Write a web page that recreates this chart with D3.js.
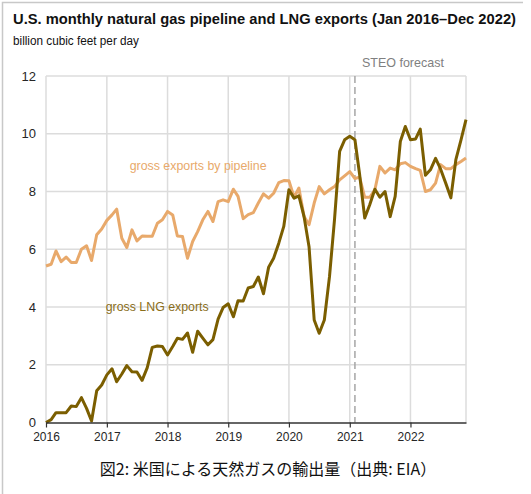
<!DOCTYPE html>
<html>
<head>
<meta charset="utf-8">
<script src="https://cdn.jsdelivr.net/npm/d3@7"></script>
<style>
  body { margin: 0; background: #fff; }
  text { font-family: "Liberation Sans", Arial, sans-serif; }
</style>
</head>
<body>
<div id="wrapper"></div>
<script>
// monthly values, Jan 2016 .. Dec 2022 (billion cubic feet per day)
const pipeline = [
  5.42, 5.48, 5.94, 5.57, 5.73, 5.54, 5.54, 6.0, 6.12, 5.61, 6.5, 6.7,
  7.0, 7.19, 7.39, 6.38, 6.06, 6.67, 6.29, 6.46, 6.45, 6.45, 6.9, 7.02,
  7.31, 7.19, 6.46, 6.44, 5.69, 6.27, 6.61, 7.02, 7.31, 6.96, 7.65, 7.71,
  7.65, 8.08, 7.83, 7.06, 7.2, 7.27, 7.6, 7.92, 7.77, 7.94, 8.31, 8.38,
  8.37, 7.8, 8.12, 7.13, 6.85, 7.6, 8.17, 7.92, 8.06, 8.17, 8.4, 8.54,
  8.69, 8.45, 8.5, 7.8, 7.8, 8.06, 8.87, 8.64, 8.81, 8.75, 8.96, 9.0,
  8.87, 8.79, 8.73, 8.0, 8.06, 8.29, 8.93, 8.79, 8.79, 8.93, 9.04, 9.16
]
const lng = [
  0.0, 0.1, 0.34, 0.34, 0.34, 0.57, 0.55, 0.86, 0.49, 0.05, 1.1, 1.3,
  1.65, 1.86, 1.41, 1.68, 1.97, 1.76, 1.75, 1.46, 1.9, 2.6, 2.65, 2.63,
  2.34, 2.63, 2.92, 2.88, 3.1, 2.43, 3.16, 2.92, 2.69, 2.87, 3.58, 3.98,
  4.11, 3.66, 4.22, 4.21, 4.66, 4.71, 5.04, 4.46, 5.38, 5.69, 6.21, 6.79,
  8.06, 7.77, 7.85, 7.13, 6.09, 3.55, 3.09, 3.55, 5.05, 7.02, 9.39, 9.79,
  9.91, 9.79, 8.6, 7.08, 7.54, 8.08, 7.8, 8.0, 7.13, 7.83, 9.73, 10.25,
  9.79, 9.82, 10.16, 8.56, 8.75, 9.15, 8.78, 8.29, 7.78, 9.1, 9.79, 10.49
]
const months = d3.timeMonths(new Date(2016, 0, 1), new Date(2023, 0, 1))
const yearTicks = [2016, 2017, 2018, 2019, 2020, 2021, 2022]
const yTicks = [0, 2, 4, 6, 8, 10, 12]
const forecastStart = new Date(2021, 1, 1)

const title = 'U.S. monthly natural gas pipeline and LNG exports (Jan 2016\u2013Dec 2022)'
const subtitle = 'billion cubic feet per day'
const caption = '図2: 米国による天然ガスの輸出量（出典: EIA）'

const pipeColor = '#e8a96b'
const lngColor = '#7b5e00'
const gridColor = '#dcdcdc'

// dimensions
const dms = {
    width: 531,
    height: 494,
    margins: { top: 76, right: 65, bottom: 72, left: 46 }
}
dms.boundedWidth = dms.width - dms.margins.left - dms.margins.right
dms.boundedHeight = 422.5 - dms.margins.top

const svg = d3.select('#wrapper')
    .append('svg')
        .attr('width', dms.width)
        .attr('height', dms.height)

svg.append('rect')
    .attr('width', dms.width).attr('height', dms.height)
    .attr('fill', '#fff')

// outer frame (left + top)
svg.append('path')
    .attr('d', 'M2.5,494V2.5H523')
    .attr('fill', 'none')
    .attr('stroke', '#c8c8c8')
    .attr('stroke-width', 1.5)

const bounds = svg.append('g')
    .attr('transform', `translate(${dms.margins.left},${dms.margins.top})`)

// scales
const xScale = d3.scaleTime()
    .domain([months[0], months[months.length - 1]])
    .range([0, 420])

const yScale = d3.scaleLinear()
    .domain([0, 12])
    .range([dms.boundedHeight, 0])

// grid
bounds.append('g')
    .selectAll('line')
    .data(yTicks.slice(1))
    .join('line')
        .attr('x1', 0).attr('x2', xScale.range()[1])
        .attr('y1', d => yScale(d)).attr('y2', d => yScale(d))
        .attr('stroke', gridColor)
        .attr('stroke-width', 1.5)

const vLines = yearTicks.map(y => new Date(y, 0, 1)).concat([months[months.length - 1]])
bounds.append('g')
    .selectAll('line')
    .data(vLines)
    .join('line')
        .attr('x1', d => xScale(d)).attr('x2', d => xScale(d))
        .attr('y1', 0).attr('y2', dms.boundedHeight)
        .attr('stroke', gridColor)
        .attr('stroke-width', 1.5)

// forecast marker
bounds.append('line')
    .attr('x1', xScale(forecastStart)).attr('x2', xScale(forecastStart))
    .attr('y1', 0).attr('y2', dms.boundedHeight)
    .attr('stroke', '#a6a6a6')
    .attr('stroke-width', 1.5)
    .attr('stroke-dasharray', '7,4')

bounds.append('text')
    .attr('x', xScale(forecastStart) + 7)
    .attr('y', -9)
    .attr('fill', '#808080')
    .style('font-size', '13px')
    .attr('textLength', 82)
    .attr('lengthAdjust', 'spacingAndGlyphs')
    .text('STEO forecast')

// lines
const lineGen = vals => d3.line()
    .x((d, i) => xScale(months[i]))
    .y(d => yScale(d))(vals)

bounds.append('path')
    .attr('d', lineGen(pipeline))
    .attr('fill', 'none')
    .attr('stroke', pipeColor)
    .attr('stroke-width', 3)
    .attr('stroke-linejoin', 'round')

bounds.append('path')
    .attr('d', lineGen(lng))
    .attr('fill', 'none')
    .attr('stroke', lngColor)
    .attr('stroke-width', 3)
    .attr('stroke-linejoin', 'round')

// series labels
bounds.append('text')
    .attr('x', xScale(new Date(2017, 4, 18)))
    .attr('y', yScale(8.75))
    .attr('fill', pipeColor)
    .style('font-size', '13.5px')
    .attr('textLength', 137)
    .attr('lengthAdjust', 'spacingAndGlyphs')
    .text('gross exports by pipeline')

bounds.append('text')
    .attr('x', xScale(new Date(2016, 11, 25)))
    .attr('y', yScale(3.85))
    .attr('fill', '#8a6e1a')
    .style('font-size', '13.5px')
    .attr('textLength', 103)
    .attr('lengthAdjust', 'spacingAndGlyphs')
    .text('gross LNG exports')

// y labels
bounds.append('g')
    .selectAll('text')
    .data(yTicks)
    .join('text')
        .attr('x', -10)
        .attr('y', d => yScale(d))
        .attr('dy', '0.35em')
        .attr('text-anchor', 'end')
        .attr('fill', '#262626')
        .style('font-size', '13px')
        .text(d => d)

// x axis
const xAxisGenerator = d3.axisBottom(xScale)
    .tickValues(yearTicks.map(y => new Date(y, 0, 1)))
    .tickFormat(d3.timeFormat('%Y'))
    .tickSize(5)
    .tickSizeOuter(0)

const xAxis = bounds.append('g')
    .attr('transform', `translate(0,${dms.boundedHeight})`)
    .call(xAxisGenerator)

xAxis.select('.domain').attr('stroke', '#333').attr('stroke-width', 1.5)
xAxis.selectAll('.tick line').attr('stroke', '#333').attr('stroke-width', 1.2)
xAxis.selectAll('.tick text')
    .attr('fill', '#262626')
    .attr('y', 10)
    .style('font-size', '12px')
    .style('font-family', '"Liberation Sans", Arial, sans-serif')

// titles (source artwork is horizontally condensed)
svg.append('text')
    .attr('transform', 'translate(13,24) scale(0.95,1)')
    .attr('fill', '#111')
    .style('font-size', '15.5px')
    .style('font-weight', 'bold')
    .text(title)

svg.append('text')
    .attr('x', 13)
    .attr('y', 45)
    .attr('fill', '#111')
    .style('font-size', '12px')
    .attr('textLength', 126)
    .attr('lengthAdjust', 'spacingAndGlyphs')
    .text(subtitle)

svg.append('text')
    .attr('x', 268)
    .attr('y', 475)
    .attr('text-anchor', 'middle')
    .attr('fill', '#111')
    .style('font-size', '16px')
    .style('font-family', '"Noto Sans CJK JP", sans-serif')
    .text(caption)
</script>
</body>
</html>
